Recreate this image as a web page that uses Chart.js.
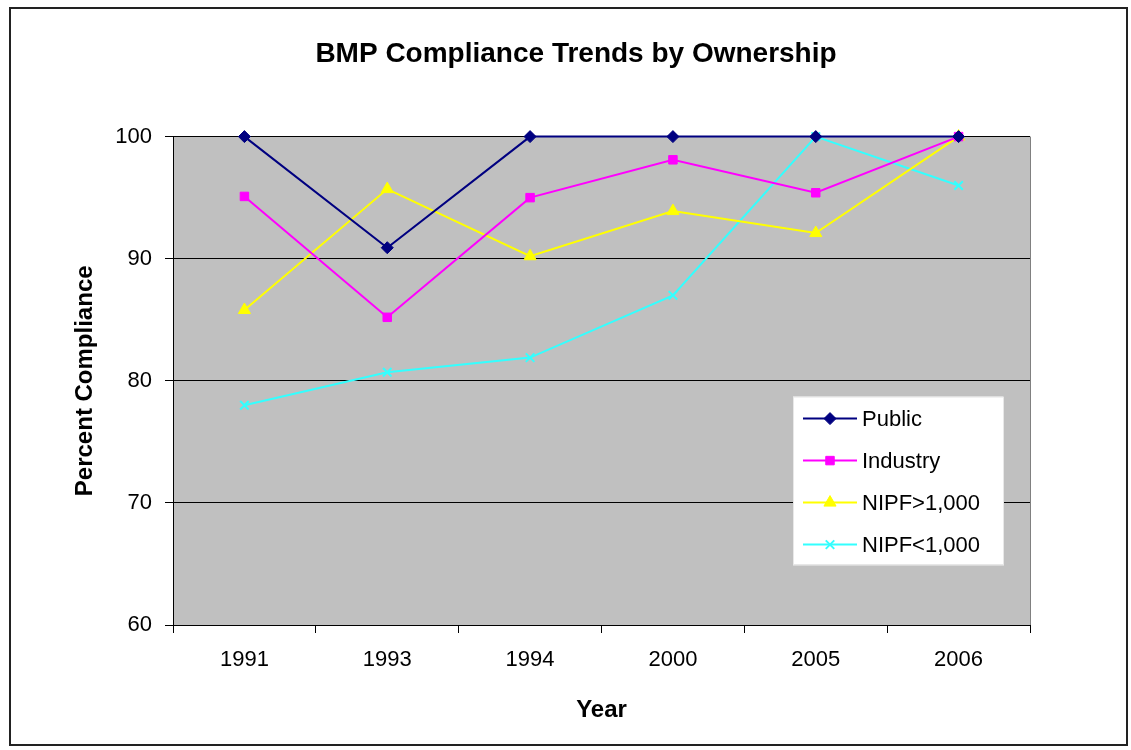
<!DOCTYPE html>
<html>
<head>
<meta charset="utf-8">
<title>BMP Compliance Trends by Ownership</title>
<script src="https://cdn.jsdelivr.net/npm/chart.js@4/dist/chart.umd.min.js"></script>
<style>
  html, body { margin: 0; padding: 0; background: #fff; overflow: hidden; }
  #wrap { position: relative; width: 1131px; height: 750px; }
</style>
</head>
<body>
<div id="wrap"><canvas id="chart"></canvas></div>
<script>
// data
const years = ["1991", "1993", "1994", "2000", "2005", "2006"];
const publicVals = [100, 90.9, 100, 100, 100, 100];
const industryVals = [95.1, 85.2, 95.0, 98.1, 95.4, 100];
const nipfLargeVals = [85.8, 95.7, 90.2, 93.9, 92.1, 100];
const nipfSmallVals = [78.0, 80.7, 81.9, 87.0, 100, 96.0];
const seriesNames = ["Public", "Industry", "NIPF>1,000", "NIPF<1,000"];
const yTicks = [60, 70, 80, 90, 100];

const FONT = "'Liberation Sans', Arial, sans-serif";

const series = [
  { data: publicVals, color: "#000080", style: "rectRot", r: 6 },
  { data: industryVals, color: "#ff00ff", style: "rect", r: 6 },
  { data: nipfLargeVals, color: "#ffff00", style: "triangle", r: 7 },
  { data: nipfSmallVals, color: "#33ffff", style: "crossRot", r: 6 },
];

// white page, outer frame and grey plot area
const backdrop = {
  id: "backdrop",
  beforeDraw(chart) {
    const { ctx, chartArea: a } = chart;
    ctx.save();
    ctx.fillStyle = "#fff";
    ctx.fillRect(0, 0, chart.width, chart.height);
    ctx.strokeStyle = "#222";
    ctx.lineWidth = 2;
    ctx.strokeRect(10, 8, 1117, 737);
    ctx.fillStyle = "#c0c0c0";
    ctx.fillRect(a.left, a.top, a.right - a.left, a.bottom - a.top);
    ctx.strokeStyle = "#808080";
    ctx.lineWidth = 1;
    ctx.beginPath();
    ctx.moveTo(a.right + 0.5, a.top);
    ctx.lineTo(a.right + 0.5, a.bottom);
    ctx.stroke();
    ctx.restore();
  },
};

// legend box sitting inside the plot area
const innerLegend = {
  id: "innerLegend",
  afterDatasetsDraw(chart) {
    const { ctx, chartArea: a } = chart;
    const x = a.right - 237, y = a.top + 260, w = 210, h = 168;
    ctx.save();
    ctx.fillStyle = "#fff";
    ctx.fillRect(x, y, w, h);
    ctx.strokeStyle = "#e8e8e8";
    ctx.lineWidth = 1;
    ctx.strokeRect(x + 0.5, y + 0.5, w, h);
    ctx.font = "22px " + FONT;
    ctx.textBaseline = "middle";
    chart.data.datasets.forEach((ds, i) => {
      const cy = y + 22 + i * 42;
      ctx.strokeStyle = ds.borderColor;
      ctx.fillStyle = ds.borderColor;
      ctx.lineWidth = 2;
      ctx.beginPath();
      ctx.moveTo(x + 10, cy);
      ctx.lineTo(x + 64, cy);
      ctx.stroke();
      ctx.lineWidth = ds.pointBorderWidth;
      Chart.helpers.drawPoint(ctx, {
        pointStyle: ds.pointStyle,
        radius: ds.pointRadius,
        borderWidth: ds.pointBorderWidth,
        rotation: 0,
      }, x + 37, cy);
      ctx.fillStyle = "#000";
      ctx.fillText(ds.label, x + 69, cy + 1);
    });
    ctx.restore();
  },
};

new Chart(document.getElementById("chart"), {
  type: "line",
  data: {
    labels: years,
    datasets: series.map((s, i) => ({
      label: seriesNames[i],
      data: s.data,
      borderColor: s.color,
      backgroundColor: s.color,
      pointBackgroundColor: s.color,
      pointBorderColor: s.color,
      pointStyle: s.style,
      pointRadius: s.r,
      pointBorderWidth: s.style === "crossRot" ? 2 : 1,
      borderWidth: 2,
      tension: 0,
      clip: false,
    })),
  },
  options: {
    responsive: true,
    maintainAspectRatio: false,
    animation: false,
    layout: { padding: { left: 21, right: 0, top: 0, bottom: 0 } },
    plugins: {
      legend: { display: false },
      tooltip: { enabled: false },
      title: {
        display: true,
        text: "BMP Compliance Trends by Ownership",
        color: "#000",
        font: { family: FONT, size: 28, weight: "bold" },
        padding: { top: 37, bottom: 66 },
      },
    },
    scales: {
      x: {
        offset: true,
        grid: { offset: true, drawOnChartArea: false, drawTicks: true, tickLength: 8, color: "#000" },
        border: { display: true, color: "#000", width: 1 },
        ticks: { color: "#000", padding: 14, font: { family: FONT, size: 22 } },
        title: {
          display: true,
          text: "Year",
          color: "#000",
          font: { family: FONT, size: 24, weight: "bold" },
          padding: { top: 0, bottom: 25 },
        },
        afterFit(s) { s.height = 125; },
      },
      y: {
        min: 60,
        max: 100,
        afterBuildTicks(s) { s.ticks = yTicks.map(v => ({ value: v })); },
        grid: { color: "#000", lineWidth: 1, drawTicks: true, tickLength: 8 },
        border: { display: true, color: "#000", width: 1 },
        ticks: { color: "#000", padding: 13, font: { family: FONT, size: 22 } },
        title: {
          display: true,
          text: "Percent Compliance",
          color: "#000",
          font: { family: FONT, size: 24, weight: "bold" },
          padding: { top: 50, bottom: 0 },
        },
        afterFit(s) { s.width = 152; },
      },
      spacer: {
        position: "right",
        display: true,
        grid: { display: false, drawTicks: false },
        border: { display: false },
        ticks: { display: false },
        afterFit(s) { s.width = 101; },
      },
    },
  },
  plugins: [backdrop, innerLegend],
});
</script>
</body>
</html>
